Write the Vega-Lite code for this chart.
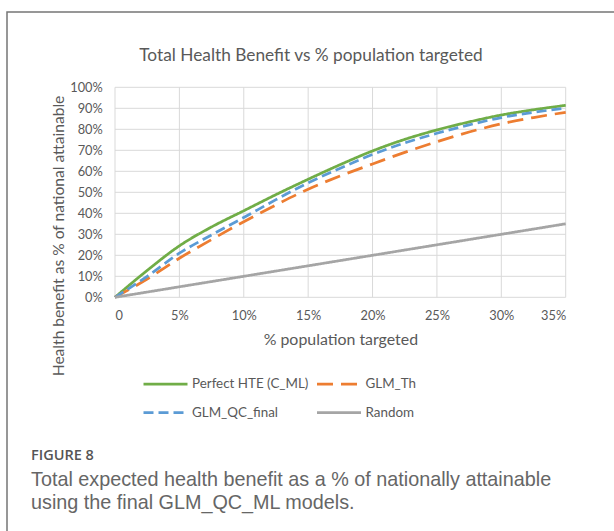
{
  "$schema": "https://vega.github.io/schema/vega-lite/v6.json",
  "width": 610,
  "height": 539,
  "autosize": {"type": "none"},
  "padding": {"left": 7, "top": 12, "right": -3, "bottom": -20},
  "background": "white",
  "config": {
    "view": {"stroke": "#767676", "strokeWidth": 1.5, "fill": "white"},
    "font": "Lato",
    "axis": {"labelColor": "#595959", "titleColor": "#595959", "labelFont": "Lato", "titleFont": "Lato", "titleFontWeight": "normal"}
  },
  "title": {
    "text": "FIGURE 8",
    "subtitle": ["Total expected health benefit as a % of nationally attainable", "using the final GLM_QC_ML models."],
    "orient": "bottom",
    "anchor": "start",
    "frame": "group",
    "offset": -102,
    "dx": 24,
    "font": "Open Sans",
    "fontSize": 14.5,
    "fontWeight": 600,
    "color": "#555555",
    "subtitleFont": "Liberation Sans",
    "subtitleFontSize": 19.8,
    "subtitleColor": "#666666",
    "subtitleLineHeight": 23.2,
    "subtitlePadding": 6
  },
  "datasets": {
    "curves": [
      {"pct": 0, "benefit": 0, "series": "Perfect HTE (C_ML)"},
      {"pct": 0.025, "benefit": 0.128, "series": "Perfect HTE (C_ML)"},
      {"pct": 0.05, "benefit": 0.245, "series": "Perfect HTE (C_ML)"},
      {"pct": 0.075, "benefit": 0.335, "series": "Perfect HTE (C_ML)"},
      {"pct": 0.1, "benefit": 0.412, "series": "Perfect HTE (C_ML)"},
      {"pct": 0.125, "benefit": 0.489, "series": "Perfect HTE (C_ML)"},
      {"pct": 0.15, "benefit": 0.562, "series": "Perfect HTE (C_ML)"},
      {"pct": 0.175, "benefit": 0.632, "series": "Perfect HTE (C_ML)"},
      {"pct": 0.2, "benefit": 0.697, "series": "Perfect HTE (C_ML)"},
      {"pct": 0.225, "benefit": 0.752, "series": "Perfect HTE (C_ML)"},
      {"pct": 0.25, "benefit": 0.797, "series": "Perfect HTE (C_ML)"},
      {"pct": 0.275, "benefit": 0.835, "series": "Perfect HTE (C_ML)"},
      {"pct": 0.3, "benefit": 0.868, "series": "Perfect HTE (C_ML)"},
      {"pct": 0.325, "benefit": 0.893, "series": "Perfect HTE (C_ML)"},
      {"pct": 0.35, "benefit": 0.914, "series": "Perfect HTE (C_ML)"},
      {"pct": 0, "benefit": 0, "series": "GLM_Th"},
      {"pct": 0.025, "benefit": 0.087, "series": "GLM_Th"},
      {"pct": 0.05, "benefit": 0.186, "series": "GLM_Th"},
      {"pct": 0.075, "benefit": 0.275, "series": "GLM_Th"},
      {"pct": 0.1, "benefit": 0.36, "series": "GLM_Th"},
      {"pct": 0.125, "benefit": 0.44, "series": "GLM_Th"},
      {"pct": 0.15, "benefit": 0.515, "series": "GLM_Th"},
      {"pct": 0.175, "benefit": 0.578, "series": "GLM_Th"},
      {"pct": 0.2, "benefit": 0.635, "series": "GLM_Th"},
      {"pct": 0.225, "benefit": 0.69, "series": "GLM_Th"},
      {"pct": 0.25, "benefit": 0.741, "series": "GLM_Th"},
      {"pct": 0.275, "benefit": 0.787, "series": "GLM_Th"},
      {"pct": 0.3, "benefit": 0.826, "series": "GLM_Th"},
      {"pct": 0.325, "benefit": 0.856, "series": "GLM_Th"},
      {"pct": 0.35, "benefit": 0.881, "series": "GLM_Th"},
      {"pct": 0, "benefit": 0, "series": "GLM_QC_final"},
      {"pct": 0.025, "benefit": 0.1, "series": "GLM_QC_final"},
      {"pct": 0.05, "benefit": 0.21, "series": "GLM_QC_final"},
      {"pct": 0.075, "benefit": 0.297, "series": "GLM_QC_final"},
      {"pct": 0.1, "benefit": 0.38, "series": "GLM_QC_final"},
      {"pct": 0.125, "benefit": 0.465, "series": "GLM_QC_final"},
      {"pct": 0.15, "benefit": 0.545, "series": "GLM_QC_final"},
      {"pct": 0.175, "benefit": 0.615, "series": "GLM_QC_final"},
      {"pct": 0.2, "benefit": 0.68, "series": "GLM_QC_final"},
      {"pct": 0.225, "benefit": 0.735, "series": "GLM_QC_final"},
      {"pct": 0.25, "benefit": 0.781, "series": "GLM_QC_final"},
      {"pct": 0.275, "benefit": 0.821, "series": "GLM_QC_final"},
      {"pct": 0.3, "benefit": 0.856, "series": "GLM_QC_final"},
      {"pct": 0.325, "benefit": 0.881, "series": "GLM_QC_final"},
      {"pct": 0.35, "benefit": 0.901, "series": "GLM_QC_final"},
      {"pct": 0, "benefit": 0, "series": "Random"},
      {"pct": 0.35, "benefit": 0.35, "series": "Random"}
    ],
    "gridX": [{"t": 0}, {"t": 0.05}, {"t": 0.1}, {"t": 0.15}, {"t": 0.2}, {"t": 0.25}, {"t": 0.3}, {"t": 0.35}],
    "gridY": [{"t": 0}, {"t": 0.1}, {"t": 0.2}, {"t": 0.3}, {"t": 0.4}, {"t": 0.5}, {"t": 0.6}, {"t": 0.7}, {"t": 0.8}, {"t": 0.9}, {"t": 1}]
  },
  "resolve": {"axis": {"x": "independent", "y": "independent"}},
  "layer": [
    {
      "data": {"name": "gridX"},
      "mark": {"type": "rule", "color": "#d9d9d9", "strokeWidth": 1},
      "encoding": {
        "x": {
          "field": "t", "type": "quantitative",
          "axis": {
            "orient": "top", "labels": false, "ticks": false, "domain": false, "grid": false,
            "title": "Total Health Benefit vs % population targeted",
            "titleX": 303.5, "titleY": 48.7, "titleAlign": "center", "titleBaseline": "alphabetic",
            "titleAngle": 0, "titleFontSize": 17.3
          }
        },
        "y": {"datum": 0, "type": "quantitative", "axis": null},
        "y2": {"datum": 1}
      }
    },
    {
      "data": {"name": "gridY"},
      "mark": {"type": "rule", "color": "#d9d9d9", "strokeWidth": 1},
      "encoding": {
        "y": {"field": "t", "type": "quantitative", "axis": null},
        "x": {"datum": 0, "type": "quantitative", "axis": null},
        "x2": {"datum": 0.35}
      }
    },
    {
      "data": {"name": "curves"},
      "mark": {"type": "line", "interpolate": "monotone", "strokeWidth": 2.75},
      "encoding": {
        "x": {
          "field": "pct", "type": "quantitative",
          "scale": {"domain": [0, 0.35], "range": [108, 558.7], "nice": false, "zero": false},
          "axis": {
            "orient": "bottom", "offset": -253.7,
            "values": [0, 0.05, 0.1, 0.15, 0.2, 0.25, 0.3, 0.35],
            "labelExpr": "datum.value == 0 ? '0' : format(datum.value, '.0%')",
            "grid": false, "domain": false, "ticks": false,
            "labelPadding": 12, "labelFontSize": 12.8,
            "title": "% population targeted", "titleFontSize": 15.9,
            "titleY": 47, "titleBaseline": "alphabetic"
          }
        },
        "y": {
          "field": "benefit", "type": "quantitative",
          "scale": {"domain": [0, 1], "range": [285.3, 75.3], "nice": false, "zero": false},
          "axis": {
            "orient": "left", "offset": -108,
            "values": [0, 0.1, 0.2, 0.3, 0.4, 0.5, 0.6, 0.7, 0.8, 0.9, 1],
            "format": ".0%",
            "grid": false, "domain": false, "ticks": false,
            "labelPadding": 12.7, "labelFontSize": 12.8,
            "title": "Health benefit as % of national attainable", "titleFontSize": 15.6,
            "titleX": -51.5, "titleY": 223.5, "titleAngle": 270, "titleAlign": "center", "titleBaseline": "alphabetic"
          }
        },
        "color": {
          "field": "series", "type": "nominal",
          "scale": {
            "domain": ["Perfect HTE (C_ML)", "GLM_QC_final", "GLM_Th", "Random"],
            "range": ["#70ad47", "#5b9bd5", "#ed7d31", "#a5a5a5"]
          },
          "legend": {
            "orient": "none", "legendX": 135, "legendY": 364,
            "title": null, "columns": 2, "columnPadding": 6.5, "rowPadding": 12.7,
            "symbolType": "stroke", "symbolSize": 1936, "symbolStrokeWidth": 2.75,
            "clipHeight": 16, "labelOffset": 3,
            "labelFont": "Lato", "labelFontSize": 13.4, "labelColor": "#595959"
          }
        },
        "strokeDash": {
          "field": "series", "type": "nominal",
          "scale": {
            "domain": ["Perfect HTE (C_ML)", "GLM_QC_final", "GLM_Th", "Random"],
            "range": [[1, 0], [10, 5], [16, 8], [1, 0]]
          },
          "legend": {
            "orient": "none", "legendX": 135, "legendY": 364,
            "title": null, "columns": 2, "columnPadding": 6.5, "rowPadding": 12.7,
            "symbolType": "stroke", "symbolSize": 1936, "symbolStrokeWidth": 2.75,
            "clipHeight": 16, "labelOffset": 3,
            "labelFont": "Lato", "labelFontSize": 13.4, "labelColor": "#595959"
          }
        }
      }
    }
  ]
}
